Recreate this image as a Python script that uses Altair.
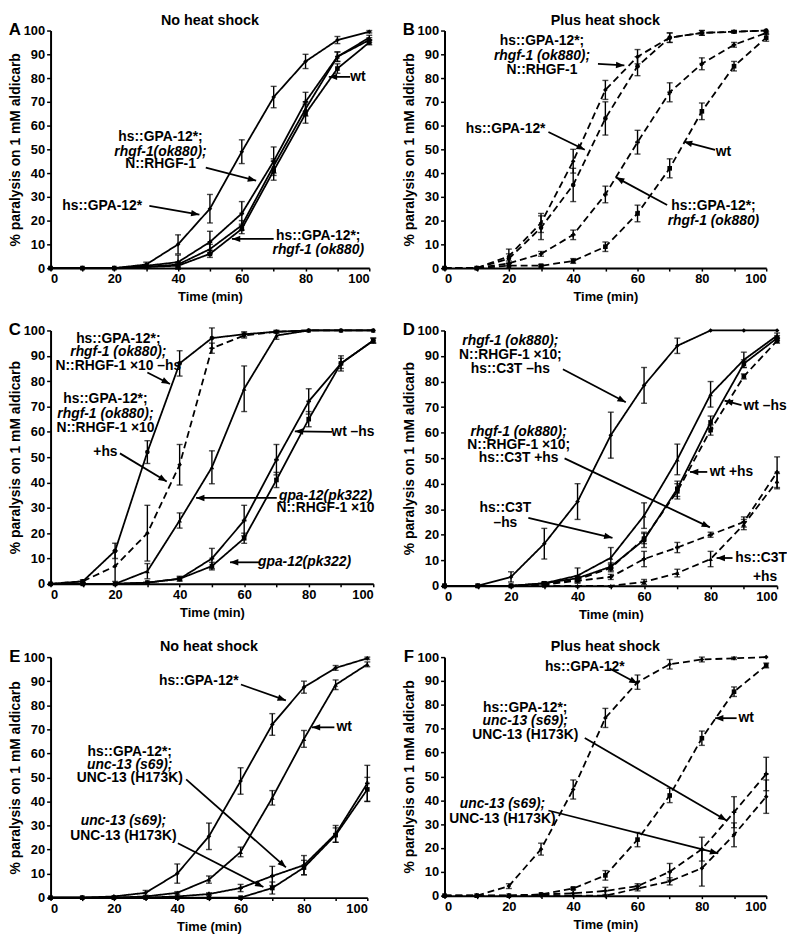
import math
import altair as alt
import pandas as pd

T = [0, 10, 20, 30, 40, 50, 60, 70, 80, 90, 100]

# ---------------- Panel A : no heat shock ----------------
A_gpa = [0, 0, 0, 1.5, 10, 25, 49, 72, 87, 96, 99.5]
A_gpa_err = [0, 0, 0, 1, 4, 6, 5, 4.5, 3, 1.5, 0.5]
A_gpa_rhgf_n = [0, 0, 0, 1, 2.5, 11, 23, 45, 70, 89, 96]
A_gpa_rhgf_n_err = [0, 0, 0, 0.5, 3, 4.5, 5, 6, 4, 2, 1]
A_gpa_rhgf = [0, 0, 0, 0.5, 1.5, 8, 18, 43, 67, 89, 97]
A_gpa_rhgf_err = [0, 0, 0, 0, 1, 2, 2, 3, 3, 2, 1]
A_wt = [0, 0, 0, 0.5, 1, 6, 16.5, 41, 65, 84, 95]
A_wt_err = [0, 0, 0, 0, 1, 1.5, 2, 4, 4, 2, 1]

# ---------------- Panel B : plus heat shock ----------------
B_gpa = [0, 0, 5, 19, 45, 75, 89, 97, 99, 99.5, 100]
B_gpa_err = [0, 0, 3, 4, 5, 4, 3, 2, 1, 0.5, 0]
B_gpa_rhgf_n = [0, 0, 4, 17, 35, 63, 85, 97, 99, 99.5, 100]
B_gpa_rhgf_n_err = [0, 0, 2, 5, 7, 7, 4, 2, 1, 0.5, 0]
B_gpa_rhgf = [0, 0, 2, 6, 14, 31, 53, 74, 86, 94, 99]
B_gpa_rhgf_err = [0, 0, 1, 1, 2, 3.5, 5, 4, 2.5, 1, 0.5]
B_wt = [0, 0, 1, 1, 3, 9, 23, 42, 66, 85, 97]
B_wt_err = [0, 0, 0, 0.5, 1, 2, 3.5, 4, 3.5, 2, 1.5]

# ---------------- Panel C ----------------
C_minus = [0, 1, 13, 52, 87, 97, 98.5, 99.5, 100, 100, 100]
C_minus_err = [0, 0.5, 3, 4.5, 5, 4, 1, 0.5, 0, 0, 0]
C_plus = [0, 1, 7, 20, 47, 93, 98, 99.5, 100, 100, 100]
C_plus_err = [0, 0.5, 6, 11, 8, 2, 1, 0.5, 0, 0, 0]
C_gpa_n = [0, 0, 0, 5, 25, 46, 77, 98, 100, 100, 100]
C_gpa_n_err = [0, 0, 0, 3, 3, 6.5, 9, 1.5, 0, 0, 0]
C_wt = [0, 0, 0, 0.5, 2, 10, 25, 49, 72, 87, 96]
C_wt_err = [0, 0, 0, 0, 1, 4, 6, 6, 5, 3, 1]
C_gpa = [0, 0, 0, 0.5, 2, 7, 18, 41, 65, 87, 96]
C_gpa_err = [0, 0, 0, 0, 0.5, 1.5, 2, 3, 3, 2, 1]

# ---------------- Panel D ----------------
D_rhgf_minus = [0, 0, 3.5, 16.5, 33, 59, 78.5, 94, 100, 100, 100]
D_rhgf_minus_err = [0, 0, 2, 6, 7, 9, 7, 3, 0, 0, 0]
D_c3t_minus = [0, 0, 0, 1, 4, 11, 27.5, 49.5, 75, 88.5, 98]
D_c3t_minus_err = [0, 0, 0, 0.5, 3, 4, 5, 6, 5, 3, 1]
D_wt_minus = [0, 0, 0, 1, 3, 7.5, 18, 38, 64, 87, 97]
D_wt_minus_err = [0, 0, 0, 0.5, 1, 1.5, 3, 3, 2.5, 1.5, 1]
D_wt_plus = [0, 0, 0, 0.5, 2.5, 7, 18.5, 37, 61, 82, 96]
D_wt_plus_err = [0, 0, 0, 0.5, 1, 1.5, 2, 3, 2, 1, 1]
D_rhgf_plus = [0, 0, 0, 0.5, 2, 3.5, 10.5, 15, 20, 25, 44.5]
D_rhgf_plus_err = [0, 0, 0, 0, 0.5, 1, 3, 2, 1, 2, 6]
D_c3t_plus = [0, 0, 0, 0, 0, 0, 1.5, 5, 10.5, 24, 41]
D_c3t_plus_err = [0, 0, 0, 0, 0, 0, 1, 1.5, 3, 2, 3]

# ---------------- Panel E : no heat shock ----------------
E_gpa = [0, 0, 0.5, 2, 10, 25.5, 48.5, 72, 87.5, 95.5, 99.5]
E_gpa_err = [0, 0, 0, 1, 4, 5.5, 5.5, 4.5, 2.5, 1, 0.5]
E_wt = [0, 0, 0, 0.5, 2, 7.5, 19, 41.5, 66, 88.5, 97]
E_wt_err = [0, 0, 0, 0, 0.5, 1.5, 2, 3, 3.5, 2, 1]
E_gpa_unc = [0, 0, 0, 0, 0.5, 1.5, 4, 9, 13.5, 26.5, 47.5]
E_gpa_unc_err = [0, 0, 0, 0, 0, 0.5, 1.5, 4, 4, 3.5, 7.5]
E_unc = [0, 0, 0, 0, 0, 0, 0, 4, 12.5, 26, 45]
E_unc_err = [0, 0, 0, 0, 0, 0, 0, 2.5, 3, 3, 5]

# ---------------- Panel F : plus heat shock ----------------
F_gpa = [0, 0, 4, 19.5, 44.5, 74.5, 89.5, 97, 99, 99.5, 100]
F_gpa_err = [0, 0, 1, 2.5, 4, 4, 3, 2, 1, 0.5, 0]
F_wt = [0, 0, 0, 0.5, 3, 8.5, 23.5, 42, 66, 85.5, 96.5]
F_wt_err = [0, 0, 0, 0, 0.5, 2, 3, 3, 3, 2, 1]
F_gpa_unc = [0, 0, 0, 0.5, 1, 2, 4, 10, 19.5, 35, 51]
F_gpa_unc_err = [0, 0, 0, 0, 0, 1.5, 1, 3.5, 5, 6.5, 7]
F_unc = [0, 0, 0, 0, 0, 0, 3, 6, 11.5, 25.5, 41.5]
F_unc_err = [0, 0, 0, 0, 0, 0, 1, 1.5, 7.5, 5, 7]

# ---------------- annotations (text lines and arrows, data coords) ----------------
A_texts = [(16.2, 26, "hs::GPA-12*", False),
           (34.5, 55.3, "hs::GPA-12*;", False), (34.5, 49, "rhgf-1(ok880);", True),
           (34.5, 43.7, "N::RHGF-1", False),
           (96.4, 80.5, "wt", False),
           (84, 13.6, "hs::GPA-12*;", False), (84, 7.5, "rhgf-1 (ok880)", True)]
A_arrows = [(31, 26.2, 46.7, 22.5), (48.7, 42.3, 64.5, 36.8),
            (94.0, 80.5, 87.3, 80.5), (70, 12.3, 56.9, 12.3)]

B_texts = [(30.3, 95.5, "hs::GPA-12*;", False), (30.3, 89.4, "rhgf-1 (ok880);", True),
           (30.3, 83.2, "N::RHGF-1", False),
           (19, 58.7, "hs::GPA-12*", False),
           (86.7, 49, "wt", False),
           (83.6, 26, "hs::GPA-12*;", False), (83.6, 19.8, "rhgf-1 (ok880)", True)]
B_arrows = [(47.7, 86, 55.9, 85.3), (32.3, 57.3, 43.6, 49.8),
            (84.1, 49.8, 74.4, 53.2), (69.2, 26.6, 53.3, 38.2)]

C_texts = [(21, 96.5, "hs::GPA-12*;", False), (21, 91.3, "rhgf-1 (ok880);", True),
           (21, 86, "N::RHGF-1 ×10 –hs", False),
           (17, 73, "hs::GPA-12*;", False), (17, 67.1, "rhgf-1 (ok880);", True),
           (17, 61.3, "N::RHGF-1 ×10", False), (17, 52.2, "+hs", False),
           (93.7, 60, "wt –hs", False),
           (85.2, 34.5, "gpa-12(pk322)", True), (85.2, 30, "N::RHGF-1 ×10", False),
           (78.7, 8.5, "gpa-12(pk322)", True)]
C_arrows = [(30, 83.4, 37, 78.9), (21.5, 51.5, 36, 40.4), (87.2, 60, 75.7, 60.2),
            (70.1, 33.9, 45.1, 33.9), (64.6, 8.5, 55.6, 8.5)]

D_texts = [(19.8, 95.9, "rhgf-1 (ok880);", True), (19.8, 90.3, "N::RHGF-1 ×10;", False),
           (19.8, 84.8, "hs::C3T –hs", False),
           (22.3, 60.2, "rhgf-1 (ok880);", True), (22.3, 55, "N::RHGF-1 ×10;", False),
           (22.3, 49.9, "hs::C3T +hs", False),
           (18.3, 30.4, "hs::C3T", False), (18.3, 24.6, "–hs", False),
           (96.4, 70.5, "wt –hs", False),
           (86.3, 44.6, "wt +hs", False),
           (95.2, 10.9, "hs::C3T", False), (96.4, 3.5, "+hs", False)]
D_arrows = [(35.6, 84.8, 54.5, 71.9), (36.1, 49.9, 79.8, 22.9), (25.2, 26.6, 50.5, 18.8),
            (89.3, 70.8, 84.2, 72.5), (79.0, 44.6, 73.8, 44.6), (86.6, 10.9, 81.8, 10.9)]

E_texts = [(46.8, 90, "hs::GPA-12*", False),
           (92.7, 70.8, "wt", False),
           (25, 60.5, "hs::GPA-12*;", False), (25, 55, "unc-13 (s69);", True),
           (25, 49.6, "UNC-13 (H173K)", False),
           (23, 31.8, "unc-13 (s69);", True), (23, 25.6, "UNC-13 (H173K)", False)]
E_arrows = [(60.1, 88.6, 74.3, 82), (89.6, 70.8, 82.5, 70.8),
            (42.8, 49.2, 74.3, 12.6), (40.2, 22.6, 67.2, 4.4)]

F_texts = [(43.6, 95.8, "hs::GPA-12*", False),
           (93.8, 74.4, "wt", False),
           (25.1, 78.6, "hs::GPA-12*;", False), (25.1, 73, "unc-13 (s69);", True),
           (25.1, 67.5, "UNC-13 (H173K)", False),
           (18, 38.5, "unc-13 (s69);", True), (18, 32.2, "UNC-13 (H173K)", False)]
F_arrows = [(51.3, 95.2, 60, 88.9), (90.8, 74.4, 84.1, 74.4),
            (43.6, 66.1, 87.7, 31.5), (32.3, 35.7, 85.1, 17.7)]

FONT = "Liberation Sans"
HEAD = "M0,0L1,2.6L-1,2.6Z"


def panel(series, texts, arrows, W, H, letter, title=None):
    rows = []
    for name, vals, errs, dash, shape in series:
        for t, v, e in zip(T, vals, errs):
            rows.append(dict(series=name, x=t, y=v, lo=v - e, hi=v + e, err=e,
                             dash=dash, shape=shape))
    df = pd.DataFrame(rows)
    xs = alt.Scale(domain=[0, 100], nice=False, zero=False)
    ys = alt.Scale(domain=[0, 100], nice=False, zero=False)
    xaxis = alt.Axis(values=list(range(0, 101, 10)),
                     labelExpr="datum.value % 20 == 0 ? datum.label : ''",
                     title="Time (min)")
    yaxis = alt.Axis(values=list(range(0, 101, 10)),
                     title="% paralysis on 1 mM aldicarb")

    def X(f):
        return alt.X(f, scale=xs, axis=xaxis)

    def Y(f):
        return alt.Y(f, scale=ys, axis=yaxis)

    base = alt.Chart(df)
    line = base.mark_line(color="black", strokeWidth=1.8).encode(
        x=X("x:Q"), y=Y("y:Q"), detail="series:N",
        strokeDash=alt.StrokeDash("dash:N", scale=alt.Scale(
            domain=["solid", "dashed"], range=[[1, 0], [7, 4]]), legend=None))
    eb = base.transform_filter("datum.err > 0")
    rule = eb.mark_rule(color="black", strokeWidth=1.4).encode(
        x=X("x:Q"), y=Y("lo:Q"), y2="hi:Q")
    cap_lo = eb.mark_tick(color="black", orient="horizontal", size=6, thickness=1.4).encode(
        x=X("x:Q"), y=Y("lo:Q"))
    cap_hi = eb.mark_tick(color="black", orient="horizontal", size=6, thickness=1.4).encode(
        x=X("x:Q"), y=Y("hi:Q"))
    pts = base.mark_point(filled=True, color="black", size=22, opacity=1).encode(
        x=X("x:Q"), y=Y("y:Q"), shape=alt.Shape("shape:N", scale=None))

    arows = []
    for x1, y1, x2, y2 in arrows:
        dx = (x2 - x1) * W / 100.0
        dy = (y2 - y1) * H / 100.0
        ang = math.degrees(math.atan2(dx, dy)) % 360
        arows.append(dict(x1=x1, y1=y1, x2=x2, y2=y2, angle=ang))
    adf = pd.DataFrame(arows)
    arule = alt.Chart(adf).mark_rule(color="black", strokeWidth=1.8).encode(
        x=X("x1:Q"), y=Y("y1:Q"), x2="x2:Q", y2="y2:Q")
    ahead = alt.Chart(adf).mark_point(shape=HEAD, filled=True, color="black",
                                      size=42, opacity=1).encode(
        x=X("x2:Q"), y=Y("y2:Q"), angle=alt.Angle("angle:Q", scale=None))

    tdf = pd.DataFrame([dict(x=a, y=b, text=c, italic=d) for a, b, c, d in texts])
    tn = alt.Chart(tdf).transform_filter("!datum.italic").mark_text(
        font=FONT, fontSize=14, fontWeight="bold", color="black",
        align="center", baseline="middle").encode(x=X("x:Q"), y=Y("y:Q"), text="text:N")
    ti = alt.Chart(tdf).transform_filter("datum.italic").mark_text(
        font=FONT, fontSize=14, fontWeight="bold", fontStyle="italic", color="black",
        align="center", baseline="middle").encode(x=X("x:Q"), y=Y("y:Q"), text="text:N")

    let = alt.Chart(pd.DataFrame({"t": [letter]})).mark_text(
        font=FONT, fontSize=17, fontWeight="bold", color="black",
        align="center", baseline="middle").encode(
        x=alt.value(-36), y=alt.value(0), text="t:N")

    layers = [line, rule, cap_lo, cap_hi, pts, arule, ahead, tn, ti, let]
    if title:
        layers.append(alt.Chart(pd.DataFrame({"t": [title]})).mark_text(
            font=FONT, fontSize=14.5, fontWeight="bold", color="black",
            align="center", baseline="alphabetic").encode(
            x=alt.value(W / 2), y=alt.value(-6), text="t:N"))
    return alt.layer(*layers).properties(width=W, height=H)


S, D = "solid", "dashed"
pA = panel([("gpa", A_gpa, A_gpa_err, S, "diamond"),
            ("gpa_rhgf_n", A_gpa_rhgf_n, A_gpa_rhgf_n_err, S, "cross"),
            ("gpa_rhgf", A_gpa_rhgf, A_gpa_rhgf_err, S, "triangle-up"),
            ("wt", A_wt, A_wt_err, S, "square")],
           A_texts, A_arrows, 322, 240, "A", "No heat shock")
pB = panel([("gpa", B_gpa, B_gpa_err, D, "diamond"),
            ("gpa_rhgf_n", B_gpa_rhgf_n, B_gpa_rhgf_n_err, D, "circle"),
            ("gpa_rhgf", B_gpa_rhgf, B_gpa_rhgf_err, D, "cross"),
            ("wt", B_wt, B_wt_err, D, "square")],
           B_texts, B_arrows, 325, 240, "B", "Plus heat shock")
pC = panel([("minus", C_minus, C_minus_err, S, "circle"),
            ("plus", C_plus, C_plus_err, D, "diamond"),
            ("gpa_n", C_gpa_n, C_gpa_n_err, S, "triangle-up"),
            ("wt", C_wt, C_wt_err, S, "cross"),
            ("gpa", C_gpa, C_gpa_err, S, "square")],
           C_texts, C_arrows, 326, 256, "C")
pD = panel([("rhgf_minus", D_rhgf_minus, D_rhgf_minus_err, S, "diamond"),
            ("c3t_minus", D_c3t_minus, D_c3t_minus_err, S, "triangle-up"),
            ("wt_minus", D_wt_minus, D_wt_minus_err, S, "square"),
            ("wt_plus", D_wt_plus, D_wt_plus_err, D, "square"),
            ("rhgf_plus", D_rhgf_plus, D_rhgf_plus_err, D, "cross"),
            ("c3t_plus", D_c3t_plus, D_c3t_plus_err, D, "triangle-up")],
           D_texts, D_arrows, 336, 258, "D")
pE = panel([("gpa", E_gpa, E_gpa_err, S, "diamond"),
            ("wt", E_wt, E_wt_err, S, "triangle-up"),
            ("gpa_unc", E_gpa_unc, E_gpa_unc_err, S, "cross"),
            ("unc", E_unc, E_unc_err, S, "square")],
           E_texts, E_arrows, 320, 243, "E", "No heat shock")
pF = panel([("gpa", F_gpa, F_gpa_err, D, "diamond"),
            ("wt", F_wt, F_wt_err, D, "square"),
            ("gpa_unc", F_gpa_unc, F_gpa_unc_err, D, "cross"),
            ("unc", F_unc, F_unc_err, D, "diamond")],
           F_texts, F_arrows, 325, 241, "F", "Plus heat shock")

chart = alt.vconcat(
    alt.hconcat(pA, pB, spacing=29),
    alt.hconcat(pC, pD, spacing=25),
    alt.hconcat(pE, pF, spacing=31),
    spacing=18,
).configure(
    font=FONT, padding=0
).configure_view(
    stroke=None
).configure_axis(
    labelFont=FONT, labelFontSize=13, labelFontWeight="bold", labelColor="black",
    titleFont=FONT, titleFontSize=13, titleFontWeight="bold", titleColor="black",
    domainColor="black", domainWidth=2, tickColor="black", tickWidth=1.5, grid=False,
).configure_axisY(
    tickSize=4, labelPadding=2, titlePadding=1, titleFontSize=14
).configure_axisX(
    tickSize=3, labelPadding=2, titlePadding=5
)

chart.save("out.html", embed_options={"renderer": "svg", "actions": False})
